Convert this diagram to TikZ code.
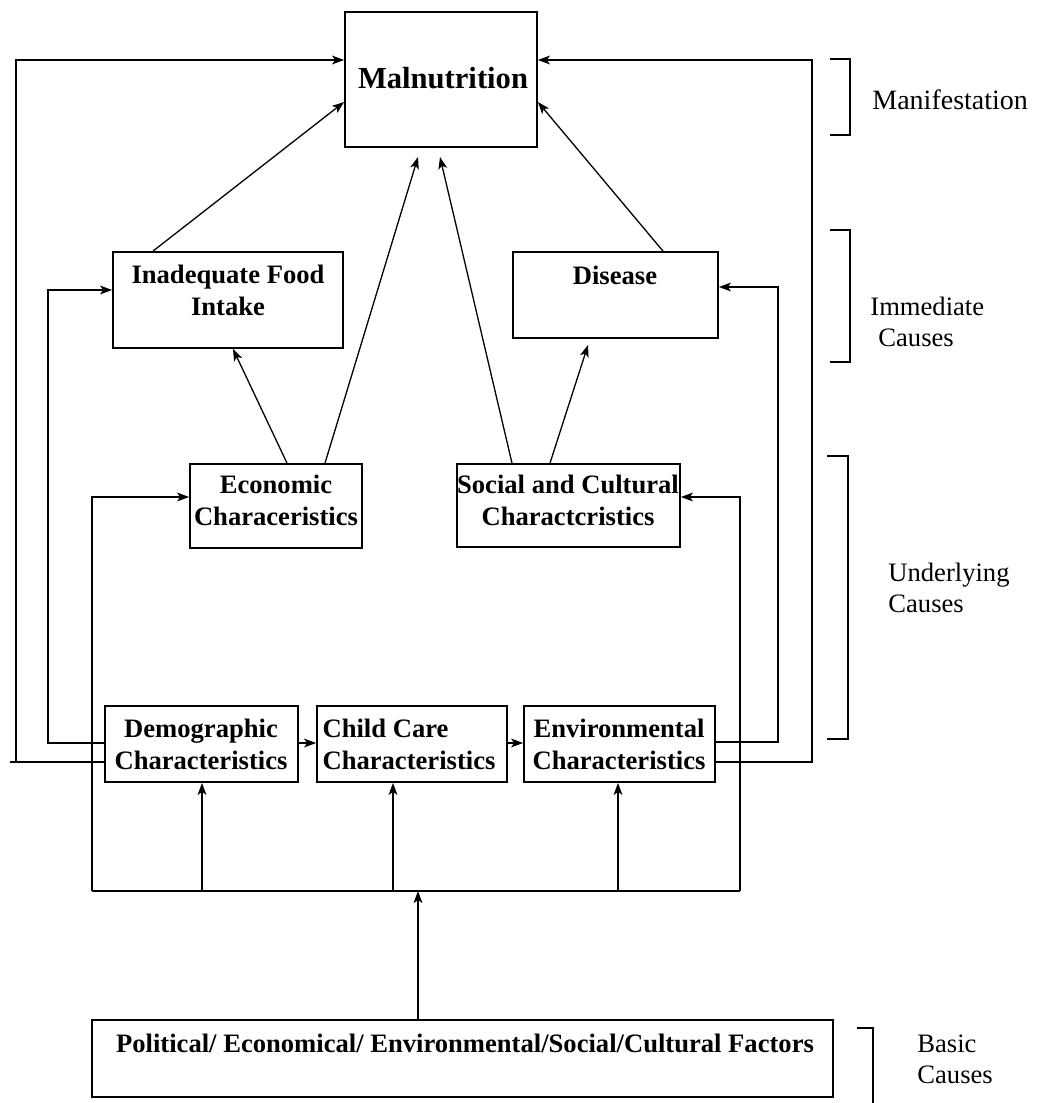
\documentclass[tikz,border=0pt]{standalone}
\usepackage{fontspec}
\setmainfont{Liberation Serif}
\usetikzlibrary{arrows.meta,fit}
\begin{document}
\begin{tikzpicture}[x=0.5pt,y=-0.5pt,
  box/.style={draw, line width=0.9pt, inner sep=0pt},
  lbl/.style={font=\fontsize{13.3}{16}\selectfont\bfseries, align=center, inner sep=0pt},
  side/.style={font=\fontsize{13.3}{15.5}\selectfont, align=left, anchor=west, inner sep=0pt},
  arr/.style={-{Stealth[length=6pt,width=4.4pt,inset=1.5pt]}, line width=0.65pt},
  ln/.style={line width=0.65pt},
  brk/.style={line width=0.9pt}]
\useasboundingbox (0,0) rectangle (1037,1103);

% boxes
\node[box, fit={(345,12) (537,147)}] (mal) {};
\node[lbl, font=\fontsize{15.3}{18}\selectfont\bfseries] (maltxt) at (443,78) {Malnutrition};
\node[box, fit={(113,252) (343,348)}] (inad) {};
\node[lbl] (inadtxt) at (228,290) {Inadequate Food\\Intake};
\node[box, fit={(513,252) (718,338)}] (dis) {};
\node[lbl] (distxt) at (615,275) {Disease};
\node[box, fit={(190,464) (362,548)}] (econ) {};
\node[lbl] (econtxt) at (276,500) {Economic\\Characeristics};
\node[box, fit={(457,464) (680,547)}] (soc) {};
\node[lbl] (soctxt) at (568,500) {Social and Cultural\\Charactcristics};
\node[box, fit={(105,706) (298,782)}] (demo) {};
\node[lbl] (demotxt) at (201,744) {Demographic\\Characteristics};
\node[box, fit={(317,706) (507,782)}] (child) {};
\node[lbl, align=left] (childtxt) at (409,744) {Child Care\\Characteristics};
\node[box, fit={(524,706) (715,782)}] (env) {};
\node[lbl] (envtxt) at (619,744) {Environmental\\Characteristics};
\node[box, fit={(92,1020) (833,1097)}] (pol) {};
\node[lbl] (poltxt) at (465,1043) {Political/ Economical/ Environmental/Social/Cultural Factors};

% bus
\coordinate (busL) at (92,891);
\coordinate (busR) at (740,891);
\draw[ln] (busL) -- (busR);
\draw[arr] (pol.north -| 418,0) -- (418,891);
\draw[arr] (202,891) -- (202,0 |- demo.south);
\draw[arr] (393,891) -- (393,0 |- child.south);
\draw[arr] (618,891) -- (618,0 |- env.south);
\draw[arr] (busL) -- (92,497) -- (econ.west |- 0,497);
\draw[arr] (busR) -- (740,497) -- (soc.east |- 0,497);

% bottom row links
\draw[arr] (demo.east |- 0,743) -- (child.west |- 0,743);
\draw[arr] (child.east |- 0,743) -- (env.west |- 0,743);

% feedback loops
\coordinate (stub) at (10,762);
\draw[ln] (16,762) -- (stub);
\draw[arr] (demo.west |- 0,762) -- (16,762) -- (16,60) -- (mal.west |- 0,60);
\draw[arr] (demo.west |- 0,743) -- (48,743) -- (48,290) -- (inad.west |- 0,290);
\draw[arr] (env.east |- 0,742) -- (778,742) -- (778,287) -- (dis.east |- 0,287);
\draw[arr] (env.east |- 0,762) -- (812,762) -- (812,60) -- (mal.east |- 0,60);

% diagonal links
\draw[arr] (287,0 |- econ.north) -- (233,0 |- inad.south);
\draw[arr] (325,0 |- econ.north) -- (418,157);
\draw[arr] (512,0 |- soc.north) -- (440,157);
\draw[arr] (550,0 |- soc.north) -- (588,345);
\draw[arr] (153,0 |- inad.north) -- (mal.west |- 0,102);
\draw[arr] (663,0 |- dis.north) -- (mal.east |- 0,102);

% brackets
\draw[brk] (830,59) -- (850,59) -- (850,135) -- (830,135);
\draw[brk] (830,230) -- (850,230) -- (850,362) -- (830,362);
\draw[brk] (827,456) -- (848,456) -- (848,739) -- (827,739);
\draw[brk] (857,1028) -- (873,1028) -- (873,1103);

% side labels
\node[side, font=\fontsize{14}{15.5}\selectfont] (lman) at (872,100) {Manifestation};
\node[side] (limm) at (870,322) {Immediate\\\hspace*{4pt}Causes};
\node[side] (lund) at (888,588) {Underlying\\Causes};
\node[side] (lbas) at (917,1059) {Basic\\Causes};
\end{tikzpicture}
\end{document}
